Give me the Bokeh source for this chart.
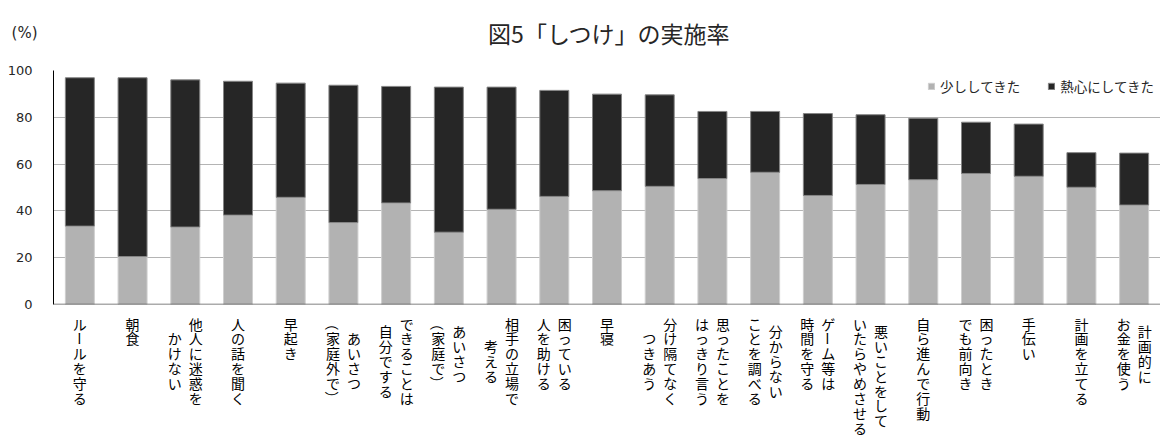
import math
from bokeh.plotting import figure
from bokeh.layouts import column
from bokeh.models import ColumnDataSource, Range1d, FixedTicker, Span
from bokeh.core.properties import value
from bokeh.embed import file_html
from bokeh.resources import INLINE

# ---- data ----
label_lines = [
    ["ルールを守る"],
    ["朝食"],
    ["他人に迷惑を", "かけない"],
    ["人の話を聞く"],
    ["早起き"],
    ["あいさつ", "（家庭外で）"],
    ["できることは", "自分でする"],
    ["あいさつ", "（家庭で）"],
    ["相手の立場で", "考える"],
    ["困っている", "人を助ける"],
    ["早寝"],
    ["分け隔てなく", "つきあう"],
    ["思ったことを", "はっきり言う"],
    ["分からない", "ことを調べる"],
    ["ゲーム等は", "時間を守る"],
    ["悪いことをして", "いたらやめさせる"],
    ["自ら進んで行動"],
    ["困ったとき", "でも前向き"],
    ["手伝い"],
    ["計画を立てる"],
    ["計画的に", "お金を使う"],
]
categories = ["".join(l) for l in label_lines]
total = [96.9, 96.9, 96.0, 95.4, 94.6, 93.7, 93.2, 92.9, 92.9, 91.5, 89.9,
         89.6, 82.5, 82.5, 81.6, 81.1, 79.6, 77.9, 77.1, 64.9, 64.7]
sukoshi = [33.5, 20.5, 33.1, 38.2, 45.8, 35.0, 43.4, 30.9, 40.7, 46.2, 48.6,
           50.5, 53.8, 56.5, 46.6, 51.3, 53.3, 56.0, 54.8, 50.1, 42.5]
nesshin = [round(t - s, 1) for t, s in zip(total, sukoshi)]
series_names = ["少ししてきた", "熱心にしてきた"]
y_ticks = [0, 20, 40, 60, 80, 100]
title_text = "図5「しつけ」の実施率"
unit_text = "(%)"

LIGHT = "#b2b2b2"
DARK = "#262626"
JP = "Noto Sans CJK JP"
LAT = "DejaVu Sans"

W, H = 1160, 438
FL, FT, FB = 53, 70, 304        # chart frame left / top / bottom (page px)
PAD = 10                        # extra room above/below the chart frame
N = len(categories)
xs = list(range(1, N + 1))
xr = Range1d(0.5, N + 0.5)

def blank(fig):
    fig.outline_line_color = None
    fig.background_fill_color = "white"
    fig.border_fill_color = "white"
    fig.xaxis.visible = False
    fig.grid.visible = False
    return fig

# ---- header: title, and the unit "(%)" as the single label of a left axis ----
top_h = FT - PAD
UNIT_Y = 32
ph = blank(figure(width=W, height=top_h, output_backend="svg", toolbar_location=None,
                  x_range=Range1d(0, W - FL), y_range=Range1d(top_h, 0),
                  min_border_left=FL, min_border_right=0,
                  min_border_top=0, min_border_bottom=0))
ph.text(x=[609 - FL], y=[UNIT_Y], text=[title_text], text_align="center",
        text_baseline="middle", text_font=value(JP), text_font_size="23px",
        text_color="#262626")
ph.yaxis.ticker = FixedTicker(ticks=[UNIT_Y])
ph.yaxis.major_label_overrides = {UNIT_Y: unit_text}
ph.yaxis.axis_line_color = None
ph.yaxis.major_tick_line_color = None
ph.yaxis.minor_tick_line_color = None
ph.yaxis.major_label_standoff = 10
ph.yaxis.major_label_text_font = LAT
ph.yaxis.major_label_text_font_size = "15px"
ph.yaxis.major_label_text_color = "#262626"

# ---- main chart ----
src = ColumnDataSource(dict(x=xs, cat=categories, light=sukoshi, dark=nesshin))
main_h = (FB - FT) + 2 * PAD
p = figure(width=W, height=main_h, output_backend="svg", toolbar_location=None,
           x_range=xr, y_range=Range1d(0, 100),
           min_border_left=FL, min_border_right=0, min_border_top=PAD,
           min_border_bottom=PAD)
p.outline_line_color = None
p.background_fill_color = "white"
p.border_fill_color = "white"

p.vbar_stack(["light", "dark"], x="x", width=0.55, source=src,
             fill_color=[LIGHT, DARK], line_color=["#cfcfcf", "#858585"],
             line_width=1, legend_label=series_names)

p.xaxis.visible = False
p.xgrid.visible = False
p.ygrid.ticker = FixedTicker(ticks=y_ticks)
p.ygrid.grid_line_color = "#b4b4b4"
p.ygrid.grid_line_width = 1
p.yaxis.ticker = FixedTicker(ticks=y_ticks)
p.yaxis.axis_line_color = "black"
p.yaxis.major_tick_line_color = None
p.yaxis.minor_tick_line_color = None
p.yaxis.major_label_standoff = 15
p.yaxis.major_label_text_font = LAT
p.yaxis.major_label_text_font_size = "13px"
p.yaxis.major_label_text_color = "#262626"
p.add_layout(Span(location=0, dimension="width", line_color="#595959", line_width=1.5))

lg = p.legend[0]
lg.location = "top_right"
lg.orientation = "horizontal"
lg.border_line_color = None
lg.background_fill_alpha = 0
lg.label_text_font = JP
lg.label_text_font_size = "13.5px"
lg.label_text_color = "#262626"
lg.glyph_width = 8
lg.glyph_height = 8
lg.label_standoff = 5
lg.spacing = 27
lg.margin = 6
lg.padding = 4

# ---- category labels (vertical writing) ----
bot_h = H - FB - PAD
pb = blank(figure(width=W, height=bot_h, output_backend="svg", toolbar_location=None,
                  x_range=xr, y_range=Range1d(-(PAD + bot_h), -PAD),
                  min_border_left=FL, min_border_right=0, min_border_top=0,
                  min_border_bottom=0))
pb.yaxis.visible = False
STEP = 14.9
TOP = 19
COLSEP = 21
lx, ly, lt, la, lo = [], [], [], [], []
for i, lines in enumerate(label_lines):
    n = len(lines)
    maxlen = max(len(s) for s in lines)
    for c, s in enumerate(lines):
        xoff = ((n - 1) / 2 - c) * COLSEP       # first line = rightmost column
        indent = (maxlen - len(s)) * STEP / 2
        for j, ch in enumerate(s):
            lx.append(xs[i])
            lo.append(xoff)
            ly.append(-(TOP + indent + j * STEP))   # px below the axis
            lt.append(ch)
            la.append(-math.pi / 2 if ch in "ー（）" else 0.0)
lsrc = ColumnDataSource(dict(x=lx, y=ly, t=lt, a=la, xo=lo))
pb.text(x="x", y="y", text="t", angle="a", x_offset="xo", source=lsrc,
        text_align="center", text_baseline="middle", text_font=value(JP),
        text_font_size="14px", text_color="black")

layout = column(ph, p, pb, spacing=0)
open("out.html", "w").write(file_html(layout, INLINE))
